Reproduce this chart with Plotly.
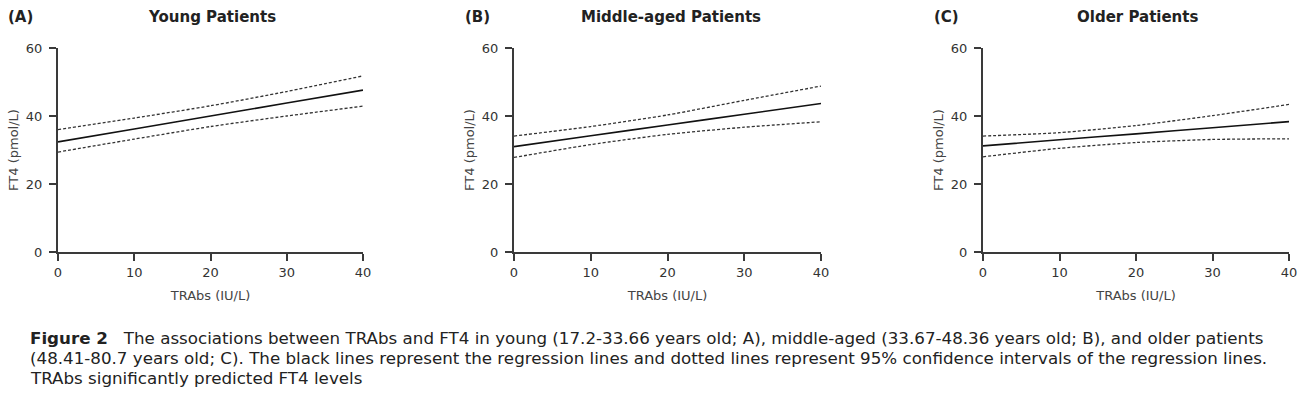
import plotly.graph_objects as go

W, H = 1300, 397

trabs = [0, 10, 20, 30, 40]

young_fit = [32.4, 36.2, 40.0, 43.8, 47.6]
young_upper = [36.0, 39.4, 43.0, 47.2, 51.8]
young_lower = [29.4, 33.2, 36.9, 40.0, 42.9]

middle_fit = [31.0, 34.2, 37.35, 40.5, 43.7]
middle_upper = [34.1, 36.9, 40.3, 44.6, 48.8]
middle_lower = [27.8, 31.6, 34.6, 36.7, 38.3]

older_fit = [31.2, 33.0, 34.75, 36.55, 38.35]
older_upper = [34.1, 35.1, 37.2, 40.1, 43.4]
older_lower = [28.0, 30.5, 32.2, 33.1, 33.3]

panel_letters = ["(A)", "(B)", "(C)"]
panel_titles = ["Young Patients", "Middle-aged Patients", "Older Patients"]
x_title = "TRAbs (IU/L)"
y_title = "FT4 (pmol/L)"
x_ticks = [0, 10, 20, 30, 40]
y_ticks = [0, 20, 40, 60]

caption_lines = [
    "<b>Figure 2</b>   The associations between TRAbs and FT4 in young (17.2-33.66 years old; A), middle-aged (33.67-48.36 years old; B), and older patients",
    "(48.41-80.7 years old; C). The black lines represent the regression lines and dotted lines represent 95% confidence intervals of the regression lines.",
    "TRAbs significantly predicted FT4 levels",
]

panels = [
    (young_fit, young_upper, young_lower),
    (middle_fit, middle_upper, middle_lower),
    (older_fit, older_upper, older_lower),
]


def px(x):
    return x / W


def py(y):
    return 1 - y / H


# pixel layout (reference coordinates)
x_px = [(58, 363), (514, 821), (983, 1289)]
y_top, y_bot = 48, 252

fig = go.Figure()
AX = "#3a3a3a"
FONT = "DejaVu Sans"

for i, (fit, up, lo) in enumerate(panels):
    n = "" if i == 0 else str(i + 1)
    xa, ya = "x" + n, "y" + n
    for ys, dash, w in ((up, "3px,2px", 1.3), (lo, "3px,2px", 1.3), (fit, "solid", 1.6)):
        fig.add_trace(go.Scatter(
            x=trabs, y=ys, mode="lines", xaxis=xa, yaxis=ya,
            line=dict(color="#111111" if dash == "solid" else "#333333", width=w, dash=dash,
                      shape="spline", smoothing=0.6),
            showlegend=False, hoverinfo="skip", cliponaxis=False))
    x0, x1 = x_px[i]
    fig.layout["xaxis" + n] = dict(
        domain=[px(x0), px(x1)], anchor=ya, range=[0, 40], automargin=False,
        tickvals=x_ticks, ticks="outside", ticklen=7, tickwidth=1.5, tickcolor=AX,
        showline=True, linewidth=2, linecolor=AX, showgrid=False, zeroline=False,
        tickfont=dict(family=FONT, size=13, color="#333333"),
        title=dict(text=x_title, font=dict(family=FONT, size=13, color="#444444"), standoff=12),
    )
    fig.layout["yaxis" + n] = dict(
        domain=[py(y_bot), py(y_top)], anchor=xa, range=[0, 60], automargin=False,
        tickvals=y_ticks, ticks="outside", ticklen=7, tickwidth=1.5, tickcolor=AX,
        ticklabelstandoff=4,
        showline=True, linewidth=2, linecolor=AX, showgrid=False, zeroline=False,
        tickfont=dict(family=FONT, size=13, color="#333333"),
        title=dict(text=y_title, font=dict(family=FONT, size=13, color="#444444"), standoff=4),
    )

letter_x = [6, 463, 932]
title_cx = [212, 671, 1137]
for i in range(3):
    fig.add_annotation(x=px(letter_x[i]), y=py(17), xref="paper", yref="paper",
                       text="<b>" + panel_letters[i] + "</b>", showarrow=False,
                       xanchor="left", yanchor="middle",
                       font=dict(family=FONT, size=15, color="#222222"))
    fig.add_annotation(x=px(title_cx[i]), y=py(17), xref="paper", yref="paper",
                       text="<b>" + panel_titles[i] + "</b>", showarrow=False,
                       xanchor="center", yanchor="middle",
                       font=dict(family=FONT, size=15, color="#222222"))

cap_y = [338, 358, 378]
for t, yy in zip(caption_lines, cap_y):
    fig.add_annotation(x=px(28), y=py(yy), xref="paper", yref="paper",
                       text=t, showarrow=False, xanchor="left", yanchor="middle",
                       font=dict(family=FONT, size=16.7, color="#222222"))

fig.update_layout(width=W, height=H, margin=dict(l=0, r=0, t=0, b=0),
                  plot_bgcolor="white", paper_bgcolor="white")

fig.write_html("out.html", config={"displayModeBar": False},
               post_script="document.body.style.margin='0';document.body.style.overflow='hidden';")
